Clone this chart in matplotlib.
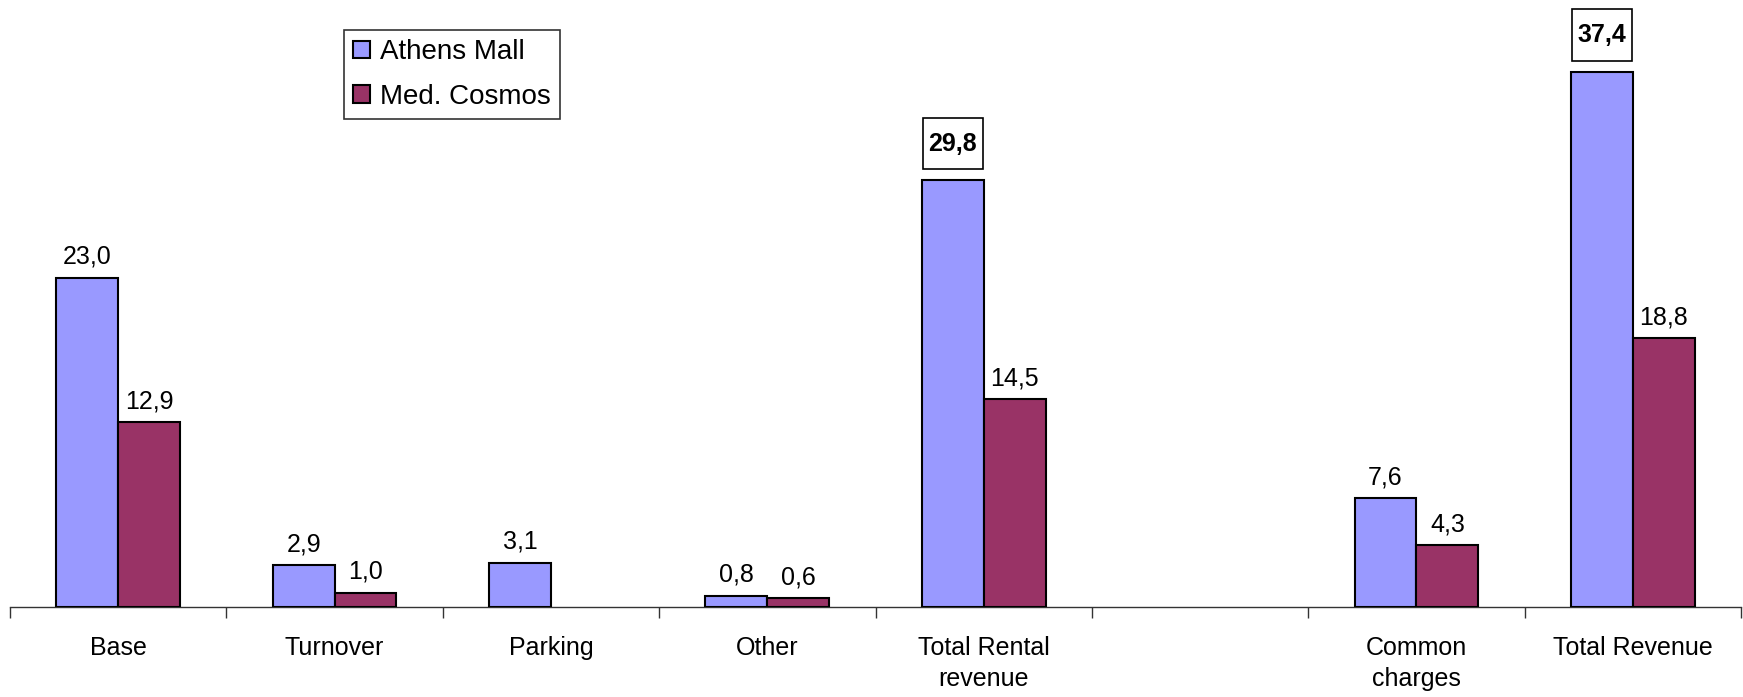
import matplotlib
matplotlib.use("Agg")
import matplotlib.pyplot as plt
from matplotlib.path import Path
import numpy as np

plt.rcParams['font.family'] = ['Liberation Sans', 'DejaVu Sans']

# data
categories = ["Base", "Turnover", "Parking", "Other", "Total Rental\nrevenue", "",
              "Common\ncharges", "Total Revenue"]
athens = [23.0, 2.9, 3.1, 0.8, 29.8, None, 7.6, 37.4]
cosmos = [12.9, 1.0, None, 0.6, 14.5, None, 4.3, 18.8]
series_names = ["Athens Mall", "Med. Cosmos"]
highlight = [4, 7]  # boxed bold labels on Athens bars

ATHENS_COL = "#9999FF"
COSMOS_COL = "#993366"
FS = 18


def tall_box(x0, y0, width, height, mutation_size):
    # rectangle with less side padding than top/bottom padding
    px, py = 0.22 * mutation_size, 0.55 * mutation_size
    x0, y0 = x0 - px, y0 - py
    x1, y1 = x0 + width + 2 * px, y0 + height + 2 * py
    return Path([(x0, y0), (x1, y0), (x1, y1), (x0, y1), (x0, y0)], closed=True)


fig = plt.figure(figsize=(17.43, 6.97), dpi=100)
ax = fig.add_axes([10 / 1743, 90 / 697, 1731 / 1743, 607 / 697])

x = np.arange(len(categories))
w = 0.286


def fmt(v):
    return f"{v:.1f}".replace(".", ",")


handles = []
for vals, off, col in [(athens, -w / 2, ATHENS_COL), (cosmos, w / 2, COSMOS_COL)]:
    xs = [xi + off for xi, v in zip(x, vals) if v is not None]
    hs = [v for v in vals if v is not None]
    h = ax.bar(xs, hs, width=w, color=col, edgecolor="black", linewidth=1.5, zorder=3)
    handles.append(h)

for i, v in enumerate(athens):
    if v is None:
        continue
    if i in highlight:
        ax.annotate(fmt(v), (x[i] - w / 2, v), xytext=(0, 26.5), textcoords="offset points",
                    ha="center", va="center", fontsize=FS, fontweight="bold",
                    bbox=dict(boxstyle=tall_box, fc="white", ec="black", lw=1.2))
    else:
        ax.annotate(fmt(v), (x[i] - w / 2, v), xytext=(0, 15), textcoords="offset points",
                    ha="center", va="center", fontsize=FS)
for i, v in enumerate(cosmos):
    if v is None:
        continue
    ax.annotate(fmt(v), (x[i] + w / 2, v), xytext=(0, 15), textcoords="offset points",
                ha="center", va="center", fontsize=FS)

ax.set_xlim(-0.5, len(categories) - 0.5)
ax.set_ylim(0, 42.4)

for s in ["top", "right", "left"]:
    ax.spines[s].set_visible(False)
ax.spines["bottom"].set_linewidth(1.0)
ax.spines["bottom"].set_color("#333333")
ax.set_yticks([])

ax.set_xticks(x)
ax.set_xticklabels(categories, fontsize=FS, linespacing=1.35)
ax.tick_params(axis="x", which="major", length=0, pad=21)
ax.set_xticks(np.arange(len(categories) + 1) - 0.5, minor=True)
ax.tick_params(axis="x", which="minor", length=8, width=1.0, color="#333333", direction="out")

leg = ax.legend(handles, series_names, loc="upper left", bbox_to_anchor=(334 / 1731, 1 - 30 / 607),
                fontsize=20, frameon=True, fancybox=False, edgecolor="black",
                handlelength=0.6, handleheight=0.6, handletextpad=0.36,
                borderpad=0.33, labelspacing=0.68, borderaxespad=0)
leg.get_frame().set_linewidth(1.2)

fig.savefig("out.png", dpi=100, facecolor="white")
